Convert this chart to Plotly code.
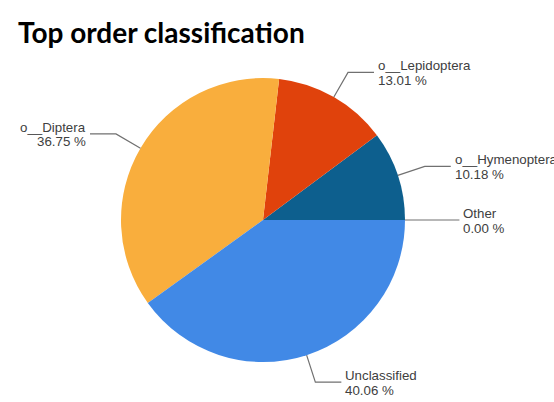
import math
import plotly.graph_objects as go

# Order classification shares (percent)
labels = ["o__Hymenoptera", "o__Lepidoptera", "o__Diptera", "Unclassified", "Other"]
values = [10.18, 13.01, 36.75, 40.06, 0.00]
colors = ["#0d5f8e", "#e0420c", "#f9ae3d", "#4189e6", "#9e9e9e"]

W, H = 554, 402
CX, CY, R = 263, 220, 142  # pie centre and radius in pixels


def px(x):
    return x / W


def py(y):
    return 1 - y / H


total = sum(values)
# first slice begins at 3 o'clock and the slices run counterclockwise
first_share = values[0] / total * 360

fig = go.Figure(
    go.Pie(
        labels=labels,
        values=values,
        marker=dict(colors=colors, line=dict(width=0)),
        sort=False,
        direction="counterclockwise",
        rotation=90 - first_share,
        textinfo="none",
        hoverinfo="label+percent",
        showlegend=False,
        domain=dict(x=[px(CX - R), px(CX + R)], y=[py(CY + R), py(CY - R)]),
    )
)

# Leader lines and two-line labels placed from each slice's mid angle
shapes = []
annotations = []
cum = 0.0
label_font = dict(family="Liberation Sans, Arial, sans-serif", size=13.3, color="#404040")
for name, v in zip(labels, values):
    a0 = cum / total * 360
    cum += v
    a1 = cum / total * 360
    mid = math.radians((a0 + a1) / 2)
    c, s = math.cos(mid), math.sin(mid)
    sx, sy = CX + R * c, CY - R * s
    ex, ey = CX + R * 1.2 * c, CY - R * 1.2 * s
    side = 1 if c >= -1e-9 else -1
    hx = ex + side * 26
    shapes.append(
        dict(
            type="path",
            xref="paper",
            yref="paper",
            path=f"M {px(sx)},{py(sy)} L {px(ex)},{py(ey)} L {px(hx)},{py(ey)}",
            line=dict(color="#707070", width=1.2),
        )
    )
    tx = hx + side * 2
    anchor = "left" if side > 0 else "right"
    annotations.append(
        dict(
            x=px(tx), y=py(ey - 6.5), xref="paper", yref="paper",
            text=name, showarrow=False, xanchor=anchor, yanchor="middle",
            font=label_font,
        )
    )
    annotations.append(
        dict(
            x=px(tx), y=py(ey + 8), xref="paper", yref="paper",
            text=f"{v:.2f} %", showarrow=False, xanchor=anchor, yanchor="middle",
            font=label_font,
        )
    )

annotations.append(
    dict(
        x=px(16), y=py(13), xref="paper", yref="paper",
        text="<b>Top order classifica\u200ction</b>", showarrow=False,
        xanchor="left", yanchor="top",
        font=dict(family="Lato, sans-serif", size=28, color="#000000"),
    )
)

fig.update_layout(
    width=W,
    height=H,
    margin=dict(l=0, r=0, t=0, b=0),
    paper_bgcolor="white",
    plot_bgcolor="white",
    shapes=shapes,
    annotations=annotations,
)

fig.write_html("out.html")
